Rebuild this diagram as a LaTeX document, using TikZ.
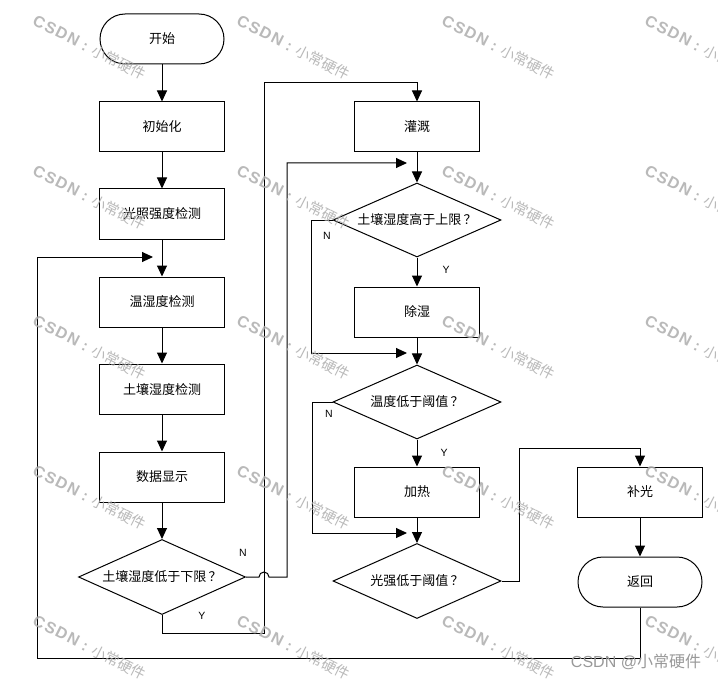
\documentclass[tikz,border=0pt]{standalone}
\usepackage{fontspec}
\setmainfont{Liberation Sans}
\newfontfamily\cjk{Noto Sans CJK SC}
\usetikzlibrary{shapes.geometric,arrows.meta}
\begin{document}
\begin{tikzpicture}[x=1pt,y=-1pt,
 base/.style={draw=black,line width=1pt,fill=white,font=\cjk\fontsize{13}{15}\selectfont,inner sep=0pt},
 proc/.style={base,rectangle,minimum width=125pt,minimum height=50pt},
 term/.style={base,rectangle,rounded corners=25pt,minimum width=124pt,minimum height=50pt},
 dec/.style={base,diamond,minimum width=168pt,minimum height=75pt},
 arr/.style={draw,line width=1pt,-{Triangle[length=11pt,width=10pt]}},
 yn/.style={font=\fontsize{10.5}{12}\selectfont},
 wm/.style={anchor=north west,rotate=-27,inner sep=0pt,text=black!32,opacity=0.85}
]
\useasboundingbox[fill=white] (0,0) rectangle (718,682);

% left column
\node[term] (start) at (162,39) {开始};
\node[proc] (init) at (162,127) {初始化};
\node[proc] (light) at (162,214) {光照强度检测};
\node[proc] (temp) at (162,302) {温湿度检测};
\node[proc] (soil) at (162,389) {土壤湿度检测};
\node[proc] (disp) at (162,477) {数据显示};
\node[dec,minimum width=167pt] (d1) at (162,577) {\makebox[0pt]{土壤湿度低于下限\,？}};

% middle column
\node[proc] (water) at (417,127) {灌溉};
\node[dec,minimum height=74pt] (d2) at (417,220) {\makebox[0pt]{土壤湿度高于上限\,？}};
\node[proc] (dehum) at (417,312) {除湿};
\node[dec,minimum height=74pt] (d3) at (417,402) {\makebox[0pt]{温度低于阈值\,？}};
\node[proc] (heat) at (417,492) {加热};
\node[dec] (d4) at (417,581) {\makebox[0pt]{光强低于阈值\,？}};

% right column
\node[proc] (fill) at (640,492) {补光};
\node[term] (ret) at (640,582) {返回};

% junction points
\coordinate (jt) at (153,257);
\coordinate (j2) at (407,163);
\coordinate (j3) at (407,353);
\coordinate (j4) at (407,533);

% straight arrows
\draw[arr] (start) -- (init);
\draw[arr] (init) -- (light);
\draw[arr] (light) -- (temp);
\draw[arr] (temp) -- (soil);
\draw[arr] (soil) -- (disp);
\draw[arr] (disp) -- (d1);
\draw[arr] (water) -- (d2);
\draw[arr] (d2) -- (dehum);
\draw[arr] (dehum) -- (d3);
\draw[arr] (d3) -- (heat);
\draw[arr] (heat) -- (d4);
\draw[arr] (fill) -- (ret);

% d1 Y branch
\draw[arr] (d1.south) |- (264,633) -- (264,83) -| (water.north);
% d1 N branch with hop
\draw[arr] (d1.east) -- (259,577) arc[start angle=180,end angle=0,radius=5pt] -- (287,577) -- (287,163) -- (j2);
% d2 N
\draw[arr] (d2.west) -- (311,220) |- (j3);
% d3 N
\draw[arr] (d3.west) -- (312,402) |- (j4);
% d4 to fill
\draw[arr] (d4.east) -- (519,581) -- (519,448) -| (fill.north);
% return loop
\draw[arr] (ret.south) |- (37,658) |- (jt);

% labels
\node[yn] (n1) at (243,553) {N};
\node[yn] (y1) at (202,616) {Y};
\node[yn] (n2) at (327,236) {N};
\node[yn] (y2) at (446,270) {Y};
\node[yn] (n3) at (329,414) {N};
\node[yn] (y3) at (444,453) {Y};

% watermarks
\foreach \x in {37,241,446,649}
 \foreach \y in {13,163,313,463,613}
  \node[wm] (wm-\x-\y) at (\x,\y) {{\fontsize{16}{18}\selectfont\bfseries\addfontfeature{LetterSpace=10}CSDN}\hspace{5pt}{\fontsize{15}{17}\selectfont\bfseries :}\hspace{6pt}{\cjk\fontsize{14.5}{17}\selectfont 小常硬件}};
\node[font=\fontsize{16}{18}\selectfont,text=black!40,inner sep=0pt] (csdn) at (636,662) {CSDN @{\cjk 小常硬件}};
\end{tikzpicture}
\end{document}
